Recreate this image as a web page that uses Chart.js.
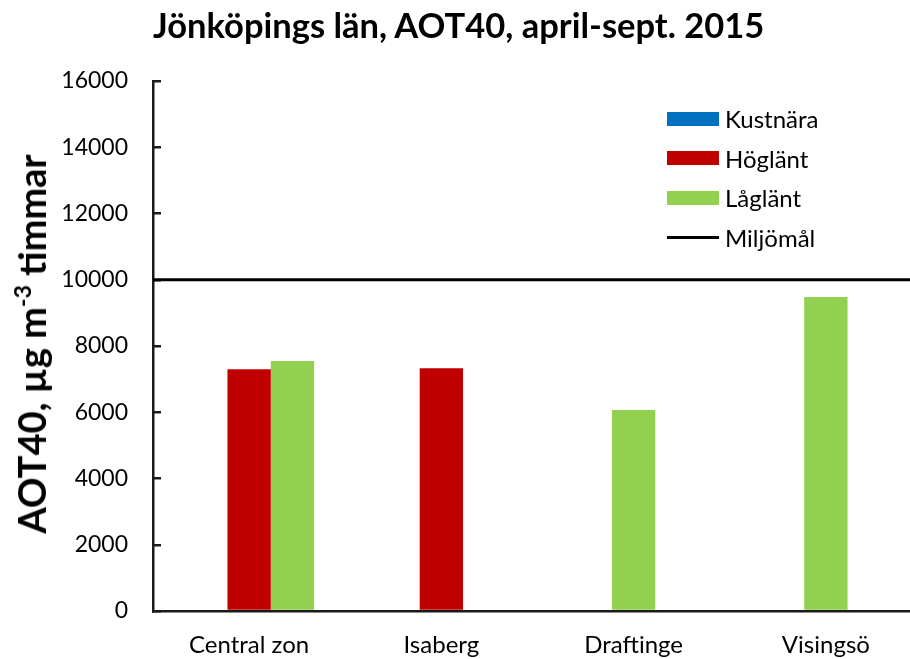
<!DOCTYPE html>
<html lang="sv">
<head>
<meta charset="utf-8">
<title>AOT40 Jönköpings län</title>
<script src="https://cdn.jsdelivr.net/npm/chart.js@4"></script>
<style>
  html, body { margin: 0; padding: 0; background: #fff; overflow: hidden; }
  #wrap { position: relative; width: 924px; height: 659px; font-family: Lato, "Open Sans", sans-serif; color: #000; }
  #aot-chart { position: absolute; left: 0; top: 0; }
  #title { position: absolute; left: 153px; top: 4px; font-size: 34.5px; font-weight: bold; white-space: nowrap; }
  #ytitle { position: absolute; left: 31px; top: 344px; transform: translate(-50%, -50%) rotate(-90deg);
            font-size: 38px; font-weight: bold; white-space: nowrap; }
  #ytitle sup { font-size: 23px; vertical-align: 15px; line-height: 0; }
  #legend { position: absolute; left: 667px; top: 99px; font-size: 24px; }
  #legend .row { display: flex; align-items: center; height: 39.5px; }
  #legend .sw { width: 52px; height: 14px; margin-right: 6px; }
  #legend .ln { width: 52px; height: 3px; margin-right: 6px; background: #000; }
</style>
</head>
<body>
<div id="wrap">
  <canvas id="aot-chart" width="924" height="659"></canvas>
  <div id="title">Jönköpings län, AOT40, april-sept. 2015</div>
  <div id="ytitle">AOT40, µg m<sup>-3</sup> timmar</div>
  <div id="legend"></div>
</div>
<script>
// Stations and AOT40 (µg m-3 timmar), april-sept. 2015
const stations = ["Central zon", "Isaberg", "Draftinge", "Visingsö"];
const kustnara = [null, null, null, null];
const hoglant = [7300, 7330, null, null];
const laglant = [null, null, 6070, 9480];
const laglantCentral = [7550, null, null, null];
const miljomal = 10000;
const yTicks = [0, 2000, 4000, 6000, 8000, 10000, 12000, 14000, 16000];

const BLUE = "#0070C0";
const RED = "#C00000";
const GREEN = "#92D050";

// target level drawn across the whole plot area
const miljomalLine = {
  id: "miljomalLine",
  afterDatasetsDraw(chart) {
    const { ctx, chartArea, scales } = chart;
    const y = scales.y.getPixelForValue(miljomal);
    ctx.save();
    ctx.strokeStyle = "#000";
    ctx.lineWidth = 3;
    ctx.beginPath();
    ctx.moveTo(chartArea.left, y);
    ctx.lineTo(chartArea.right, y);
    ctx.stroke();
    ctx.restore();
  }
};

function buildLegend() {
  const items = [
    { label: "Kustnära", color: BLUE },
    { label: "Höglänt", color: RED },
    { label: "Låglänt", color: GREEN },
    { label: "Miljömål", line: true }
  ];
  const box = document.getElementById("legend");
  items.forEach(it => {
    const row = document.createElement("div");
    row.className = "row";
    row.innerHTML = it.line
      ? `<span class="ln"></span><span>${it.label}</span>`
      : `<span class="sw" style="background:${it.color}"></span><span>${it.label}</span>`;
    box.appendChild(row);
  });
}

function initChart() {
  const ctx = document.getElementById("aot-chart").getContext("2d");
  const barOpts = { categoryPercentage: 0.676, barPercentage: 1, borderWidth: 0 };

  new Chart(ctx, {
    type: "bar",
    data: {
      labels: stations,
      datasets: [
        { label: "Kustnära", data: kustnara, backgroundColor: BLUE, stack: "kust", ...barOpts },
        { label: "Höglänt", data: hoglant, backgroundColor: RED, stack: "mitt", ...barOpts },
        { label: "Låglänt", data: laglant, backgroundColor: GREEN, stack: "mitt", ...barOpts },
        { label: "Låglänt", data: laglantCentral, backgroundColor: GREEN, stack: "hoger", ...barOpts }
      ]
    },
    plugins: [miljomalLine],
    options: {
      responsive: false,
      animation: false,
      layout: { padding: { top: 81, right: 2, bottom: 0, left: 0 } },
      plugins: {
        legend: { display: false },
        tooltip: { enabled: false }
      },
      scales: {
        x: {
          offset: true,
          grid: { drawOnChartArea: false, drawTicks: false },
          border: { display: true, color: "#1a1a1a", width: 2.5 },
          ticks: { color: "#000", padding: 20, font: { family: "Lato", size: 24 } },
          afterFit: s => { s.height = 48; }
        },
        y: {
          min: 0,
          max: 16000,
          afterBuildTicks: s => { s.ticks = yTicks.map(v => ({ value: v })); },
          grid: { drawOnChartArea: false, drawTicks: true, tickLength: -8, color: "#1a1a1a", lineWidth: 2.5 },
          border: { display: true, color: "#1a1a1a", width: 2.5 },
          ticks: {
            color: "#000",
            padding: 33,
            font: { family: "Lato", size: 23 },
            callback: v => String(v)
          },
          afterFit: s => { s.width = 153; }
        }
      }
    }
  });
}

buildLegend();
initChart();
</script>
</body>
</html>
